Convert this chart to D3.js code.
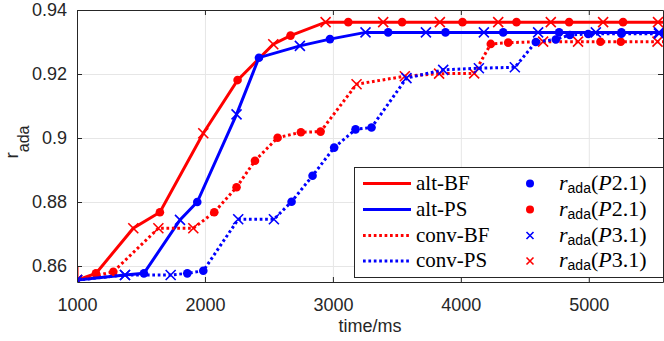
<!DOCTYPE html>
<html>
<head>
<meta charset="utf-8">
<script src="https://cdn.jsdelivr.net/npm/d3@7"></script>
<style>
  body { margin: 0; background: #fff; }
  .tickText { font-family: "Liberation Sans", Arial, sans-serif; font-size: 18px; fill: #262626; }
  .legText { font-family: "Liberation Serif", "Times New Roman", serif; font-size: 21px; fill: #000; }
</style>
</head>
<body>
<div id="chart"></div>
<script>
var svgWidth = 664;
var svgHeight = 341;

// plot box in pixels
var margin = { top: 10, right: 1, bottom: 59, left: 77 };
var width = svgWidth - margin.left - margin.right;
var height = svgHeight - margin.top - margin.bottom;

// ---- data ----
// marker per point: "o" = r_ada(P2.1), "x" = r_ada(P3.1), "" = none
var altBF_t = [1000, 1000, 1148, 1440, 1648, 1987, 2255, 2534, 2669, 2943, 3120, 3393, 3541, 3836, 4013, 4292, 4435, 4703, 4846, 5112, 5268, 5541, 5690];
var altBF_r = [0.8597, 0.8556, 0.8577, 0.8718, 0.8768, 0.9015, 0.9181, 0.9293, 0.9320, 0.9362, 0.9362, 0.9362, 0.9362, 0.9362, 0.9362, 0.9362, 0.9362, 0.9362, 0.9362, 0.9362, 0.9362, 0.9362, 0.9362];
var altBF_m = ["", "x", "o", "x", "o", "x", "o", "x", "o", "x", "o", "x", "o", "x", "o", "x", "o", "x", "o", "x", "o", "x", "o"];

var altPS_t = [1000, 1375, 1523, 1805, 1940, 2247, 2422, 2742, 2977, 3255, 3432, 3727, 3880, 4180, 4331, 4604, 4768, 5055, 5255, 5549, 5710];
var altPS_r = [0.8556, 0.8572, 0.8577, 0.8744, 0.8800, 0.9074, 0.9251, 0.9288, 0.9309, 0.9330, 0.9330, 0.9330, 0.9330, 0.9330, 0.9330, 0.9330, 0.9330, 0.9330, 0.9330, 0.9330, 0.9330];
var altPS_m = ["x", "x", "o", "x", "o", "x", "o", "x", "o", "x", "o", "x", "o", "x", "o", "x", "o", "x", "o", "x", "o"];

var convBF_t = [1000, 1284, 1636, 1909, 2073, 2247, 2391, 2568, 2750, 2904, 3185, 3562, 3830, 4104, 4234, 4370, 4643, 4916, 5091, 5250, 5537, 5700];
var convBF_r = [0.8556, 0.8582, 0.8718, 0.8718, 0.8768, 0.8846, 0.8929, 0.9001, 0.9018, 0.9020, 0.9168, 0.9193, 0.9201, 0.9202, 0.9294, 0.9298, 0.9301, 0.9301, 0.9301, 0.9301, 0.9301, 0.9301];
var convBF_m = ["x", "o", "x", "x", "o", "o", "o", "o", "o", "o", "x", "x", "x", "x", "o", "o", "x", "x", "o", "o", "x", "o"];

var convPS_t = [1000, 1375, 1732, 1862, 1987, 2260, 2539, 2677, 2841, 3010, 3177, 3302, 3575, 3862, 4141, 4422, 4586, 4742, 4852, 4995, 5255, 5549, 5700];
var convPS_r = [0.8556, 0.8572, 0.8572, 0.8577, 0.8585, 0.8746, 0.8746, 0.8801, 0.8882, 0.8970, 0.9027, 0.9033, 0.9187, 0.9213, 0.9218, 0.9221, 0.9300, 0.9308, 0.9322, 0.9325, 0.9326, 0.9326, 0.9326];
var convPS_m = ["x", "x", "x", "o", "o", "x", "x", "o", "o", "o", "o", "o", "x", "x", "x", "x", "o", "o", "o", "o", "o", "x", "o"];

var xTicks = [1000, 2000, 3000, 4000, 5000];
var yTicks = [0.86, 0.88, 0.90, 0.92, 0.94];
var yTickLabels = ["0.86", "0.88", "0.9", "0.92", "0.94"];

var legendNames = ["alt-BF", "alt-PS", "conv-BF", "conv-PS"];
var legendMarks = ["P2.1", "P2.1", "P3.1", "P3.1"];

// series table built from the arrays above
var series = [
  { t: altBF_t, r: altBF_r, m: altBF_m, color: "#ff0000", dotted: false },
  { t: altPS_t, r: altPS_r, m: altPS_m, color: "#0000ff", dotted: false },
  { t: convBF_t, r: convBF_r, m: convBF_m, color: "#ff0000", dotted: true },
  { t: convPS_t, r: convPS_r, m: convPS_m, color: "#0000ff", dotted: true }
];

var svg = d3.select("#chart")
  .append("svg")
  .attr("width", svgWidth)
  .attr("height", svgHeight);

var chart = svg.append("g")
  .attr("transform", `translate(${margin.left}, ${margin.top})`);

// scales
var xScale = d3.scaleLinear().domain([1000, 5580]).range([0, width]);
var yScale = d3.scaleLinear().domain([0.855, 0.94]).range([height, 0]);

// grid lines
chart.append("g")
  .attr("transform", `translate(0, ${height})`)
  .call(d3.axisBottom(xScale).tickValues(xTicks).tickSize(-height).tickFormat(""))
  .call(g => g.select(".domain").remove())
  .selectAll("line").attr("stroke", "#e6e6e6");

chart.append("g")
  .call(d3.axisLeft(yScale).tickValues(yTicks).tickSize(-width).tickFormat(""))
  .call(g => g.select(".domain").remove())
  .selectAll("line").attr("stroke", "#e6e6e6");

// clip the curves to the plot box
svg.append("defs").append("clipPath").attr("id", "plotClip")
  .append("rect").attr("width", width).attr("height", height);

var plot = chart.append("g").attr("clip-path", "url(#plotClip)");

var line = d3.line()
  .x(d => xScale(d[0]))
  .y(d => yScale(d[1]));

series.forEach(function(s) {
  var pts = s.t.map((t, i) => [t, s.r[i], s.m[i]]);

  plot.append("path")
    .datum(pts)
    .attr("fill", "none")
    .attr("stroke", s.color)
    .attr("stroke-width", 3)
    .attr("stroke-dasharray", s.dotted ? "2.7,2.7" : null)
    .attr("d", line);

  // circles
  plot.selectAll(null)
    .data(pts.filter(d => d[2] === "o"))
    .enter()
    .append("circle")
    .attr("cx", d => xScale(d[0]))
    .attr("cy", d => yScale(d[1]))
    .attr("r", 4.3)
    .attr("fill", s.color);

  // crosses
  plot.selectAll(null)
    .data(pts.filter(d => d[2] === "x"))
    .enter()
    .append("path")
    .attr("transform", d => `translate(${xScale(d[0])}, ${yScale(d[1])})`)
    .attr("d", "M-5,-5L5,5M-5,5L5,-5")
    .attr("stroke", s.color)
    .attr("stroke-width", 1.6);
});

// axes box with inward ticks
var axisColor = "#262626";

var bottomAxis = d3.axisBottom(xScale).tickValues(xTicks).tickSizeInner(-5).tickSizeOuter(0).tickPadding(16)
  .tickFormat(d3.format("d"));
var leftAxis = d3.axisLeft(yScale).tickValues(yTicks).tickSizeInner(-5).tickSizeOuter(0).tickPadding(10)
  .tickFormat((d, i) => yTickLabels[i]);
var topAxis = d3.axisTop(xScale).tickValues(xTicks).tickSizeInner(-5).tickSizeOuter(0).tickFormat("");
var rightAxis = d3.axisRight(yScale).tickValues(yTicks).tickSizeInner(-5).tickSizeOuter(0).tickFormat("");

[
  [bottomAxis, `translate(0, ${height})`],
  [leftAxis, null],
  [topAxis, null],
  [rightAxis, `translate(${width}, 0)`]
].forEach(function(a) {
  var g = chart.append("g").attr("transform", a[1]).call(a[0]);
  g.select(".domain").attr("stroke", axisColor);
  g.selectAll("line").attr("stroke", axisColor);
  g.selectAll("text").attr("class", "tickText").attr("font-family", null).attr("font-size", null).attr("fill", null);
});

// axis labels
svg.append("text")
  .attr("class", "tickText")
  .attr("x", margin.left + width / 2)
  .attr("y", 332)
  .attr("text-anchor", "middle")
  .text("time/ms");

var yLab = svg.append("text")
  .attr("class", "tickText")
  .attr("transform", "translate(18, 142) rotate(-90)")
  .attr("text-anchor", "middle")
  .style("font-size", "19px");
yLab.append("tspan").text("r");
yLab.append("tspan").attr("dy", 11).style("font-size", "16px").text("ada");

// legend
var legX = 354, legY = 167, legW = 309, legH = 110;
var legend = svg.append("g");

legend.append("rect")
  .attr("x", legX + 0.5)
  .attr("y", legY + 0.5)
  .attr("width", legW)
  .attr("height", legH)
  .attr("fill", "#fff")
  .attr("stroke", axisColor)
  .attr("stroke-width", 1);

var rowY = [183.5, 209.5, 235.5, 261];

series.forEach(function(s, i) {
  var y = rowY[i];
  legend.append("line")
    .attr("x1", legX + 9)
    .attr("x2", legX + 57)
    .attr("y1", y)
    .attr("y2", y)
    .attr("stroke", s.color)
    .attr("stroke-width", 3)
    .attr("stroke-dasharray", s.dotted ? "2.7,2.7" : null);

  legend.append("text")
    .attr("class", "legText")
    .attr("x", legX + 62)
    .attr("y", y + 6)
    .text(legendNames[i]);

  // marker column: blue dot, red dot, blue cross, red cross
  var mColor = (i % 2 === 0) ? "#0000ff" : "#ff0000";
  if (i < 2) {
    legend.append("circle")
      .attr("cx", 530).attr("cy", y)
      .attr("r", 4)
      .attr("fill", mColor);
  } else {
    legend.append("path")
      .attr("transform", `translate(530, ${y})`)
      .attr("d", "M-3.5,-3.5L3.5,3.5M-3.5,3.5L3.5,-3.5")
      .attr("stroke", mColor)
      .attr("stroke-width", 1.6);
  }

  var mt = legend.append("text")
    .attr("class", "legText")
    .attr("x", 559)
    .attr("y", y + 6)
    .style("font-size", "22px");
  mt.append("tspan").style("font-style", "italic").text("r");
  mt.append("tspan")
    .attr("dy", 3)
    .style("font-family", "'Liberation Sans', Arial, sans-serif")
    .style("font-size", "14px")
    .text("ada");
  mt.append("tspan").attr("dy", -3).text("(");
  mt.append("tspan").style("font-style", "italic").text("P");
  mt.append("tspan").text(legendMarks[i].slice(1) + ")");
});
</script>
</body>
</html>
